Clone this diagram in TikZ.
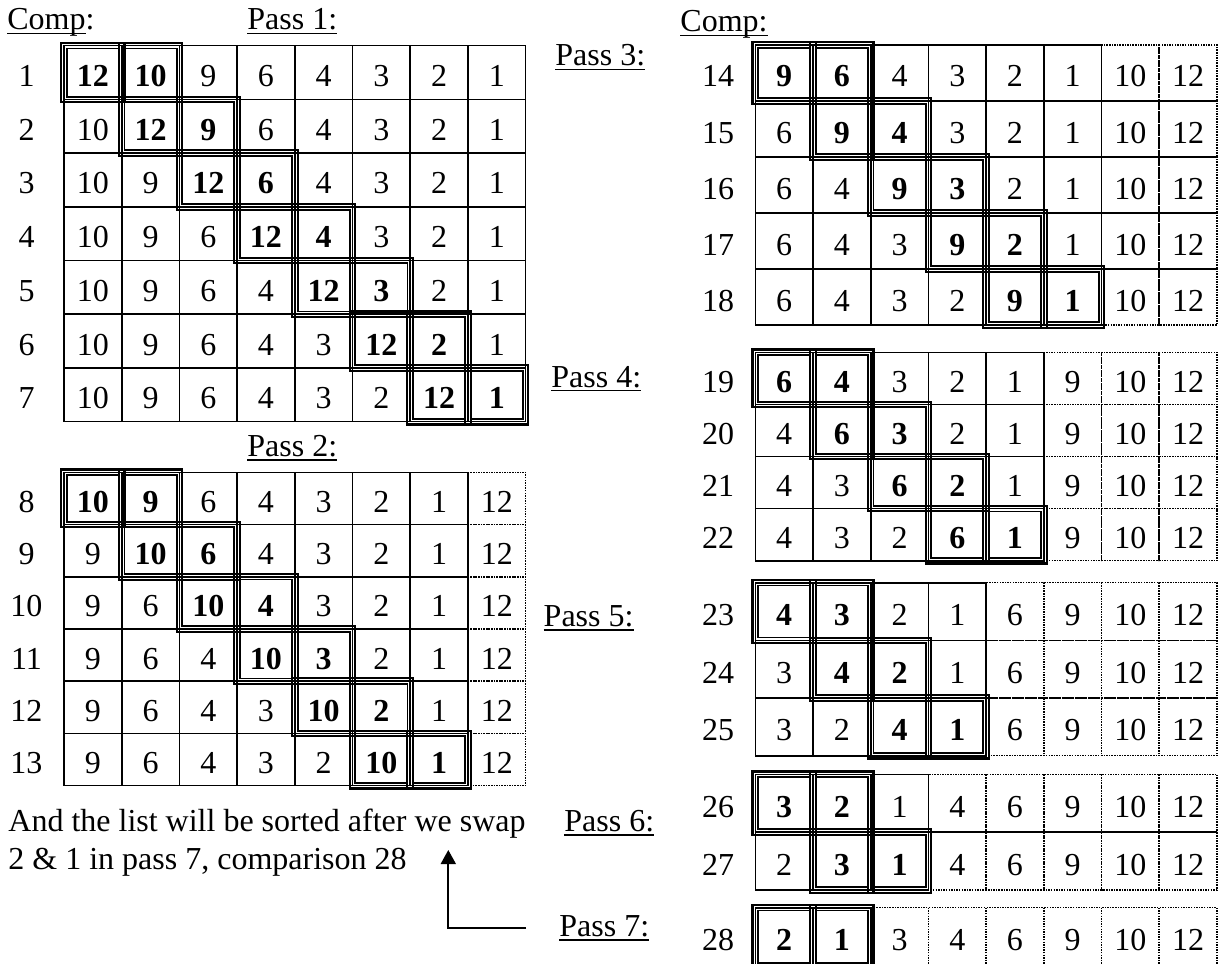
\documentclass[tikz,border=0pt]{standalone}
\usepackage{fontspec}
\setmainfont{Liberation Serif}
\usetikzlibrary{arrows.meta}
\tikzset{
  solidcell/.style={draw=black, line width=0.8pt},
  dotcell/.style={draw=black, line width=0.75pt, dash pattern=on 0.75pt off 0.55pt},
  dblout/.style={draw=black, line width=1.05pt},
  dblin/.style={draw=black, line width=0.9pt},
  num/.style={anchor=base, inner sep=0pt},
  lbl/.style={anchor=base west, inner sep=0pt},
  pointer/.style={draw=black, line width=0.85pt, -{Triangle[length=7pt,width=7.5pt]}},
}
\newsavebox\ulbox
\newcommand\ulin[1]{\sbox\ulbox{#1}\rlap{\rule[-2pt]{\wd\ulbox}{0.7pt}}\usebox\ulbox}
% #1 x0, #2 y0, #3 row height, #4 solid columns, #5 label x, #6 rows comp/firsthl/{values}
\newcommand\sortgrid[6]{%
  \foreach \cmp/\hl/\vals [count=\r from 0] in {#6} {%
    \pgfmathsetmacro\ya{#2+\r*#3}%
    \pgfmathsetmacro\yb{#2+(\r+1)*#3}%
    \pgfmathsetmacro\ym{#2+(\r+0.5)*#3+14}%
    \pgfmathtruncatemacro\hlb{\hl+1}%
    \node[num] (lab\cmp) at (#5,\ym) {\cmp};
    \foreach \v [count=\j from 0] in \vals {%
      \pgfmathsetmacro\xa{#1+\j*57.7}%
      \pgfmathsetmacro\xb{#1+(\j+1)*57.7}%
      \pgfmathsetmacro\xm{#1+(\j+0.5)*57.7}%
      \ifnum\j<#4\relax
        \draw[solidcell] (\xa,\ya) rectangle (\xb,\yb);
      \else
        \draw[dotcell] (\xa,\ya) rectangle (\xb,\yb);
      \fi
      \def\ff{}%
      \ifnum\j=\hl\relax \def\ff{\bfseries}\fi
      \ifnum\j=\hlb\relax \def\ff{\bfseries}\fi
      \node[num] (v\cmp-\j) at (\xm,\ym) {\ff\v};
      \ifx\ff\empty\else
        \draw[dblout] (\xa-2.8,\ya-2.8) rectangle (\xb+2.8,\yb+2.8);
        \draw[dblin] (\xa+2.8,\ya+2.8) rectangle (\xb-2.8,\yb-2.8);
      \fi
    }
  }%
}
\begin{document}
\begin{tikzpicture}[x=0.5pt,y=-0.5pt,font=\fontsize{16}{19}\selectfont]
\useasboundingbox (0,0) rectangle (1218,963);
\fill[white] (0,0) rectangle (1218,963);
% headings
\node[lbl] (compL) at (7,30) {\ulin{Comp}:};
\node[lbl] (compR) at (680,32) {\ulin{Comp:}};
\node[lbl] (pass1) at (247,30) {\ulin{Pass 1:}};
\node[lbl] (pass2) at (247,456.7) {\ulin{Pass 2:}};
\node[lbl] (pass3) at (555,66) {\ulin{Pass 3:}};
\node[lbl] (pass4) at (551,387) {\ulin{Pass 4:}};
\node[lbl] (pass5) at (543.3,626.7) {\ulin{Pass 5:}};
\node[lbl] (pass6) at (564,831.7) {\ulin{Pass 6:}};
\node[lbl] (pass7) at (559,936.7) {\ulin{Pass 7:}};
\node[lbl] (note1) at (8,831.7) {And the list will be sorted after we swap};
\node[lbl] (note2) at (8,869) {2 \& 1 in pass 7, comparison 28};
% pass 1
\sortgrid{64}{45.7}{53.71}{8}{26.5}{%
1/0/{12,10,9,6,4,3,2,1},%
2/1/{10,12,9,6,4,3,2,1},%
3/2/{10,9,12,6,4,3,2,1},%
4/3/{10,9,6,12,4,3,2,1},%
5/4/{10,9,6,4,12,3,2,1},%
6/5/{10,9,6,4,3,12,2,1},%
7/6/{10,9,6,4,3,2,12,1}}
% pass 2
\sortgrid{64}{472.3}{52.23}{7}{26.5}{%
8/0/{10,9,6,4,3,2,1,12},%
9/1/{9,10,6,4,3,2,1,12},%
10/2/{9,6,10,4,3,2,1,12},%
11/3/{9,6,4,10,3,2,1,12},%
12/4/{9,6,4,3,10,2,1,12},%
13/5/{9,6,4,3,2,10,1,12}}
% pass 3
\sortgrid{755.3}{45}{56}{6}{718}{%
14/0/{9,6,4,3,2,1,10,12},%
15/1/{6,9,4,3,2,1,10,12},%
16/2/{6,4,9,3,2,1,10,12},%
17/3/{6,4,3,9,2,1,10,12},%
18/4/{6,4,3,2,9,1,10,12}}
% pass 4
\sortgrid{755.3}{352.3}{52.1}{5}{718}{%
19/0/{6,4,3,2,1,9,10,12},%
20/1/{4,6,3,2,1,9,10,12},%
21/2/{4,3,6,2,1,9,10,12},%
22/3/{4,3,2,6,1,9,10,12}}
% pass 5
\sortgrid{755.3}{582.7}{57.67}{4}{718}{%
23/0/{4,3,2,1,6,9,10,12},%
24/1/{3,4,2,1,6,9,10,12},%
25/2/{3,2,4,1,6,9,10,12}}
% pass 6
\sortgrid{755.3}{774.3}{57.85}{3}{718}{%
26/0/{3,2,1,4,6,9,10,12},%
27/1/{2,3,1,4,6,9,10,12}}
% pass 7
\sortgrid{755.3}{907.7}{57.7}{2}{718}{%
28/0/{2,1,3,4,6,9,10,12}}
% pointer
\coordinate (arrowfoot) at (526,928);
\coordinate (arrowtip) at (448.3,850);
\draw[pointer] (arrowfoot) -| (arrowtip);
\end{tikzpicture}
\end{document}
